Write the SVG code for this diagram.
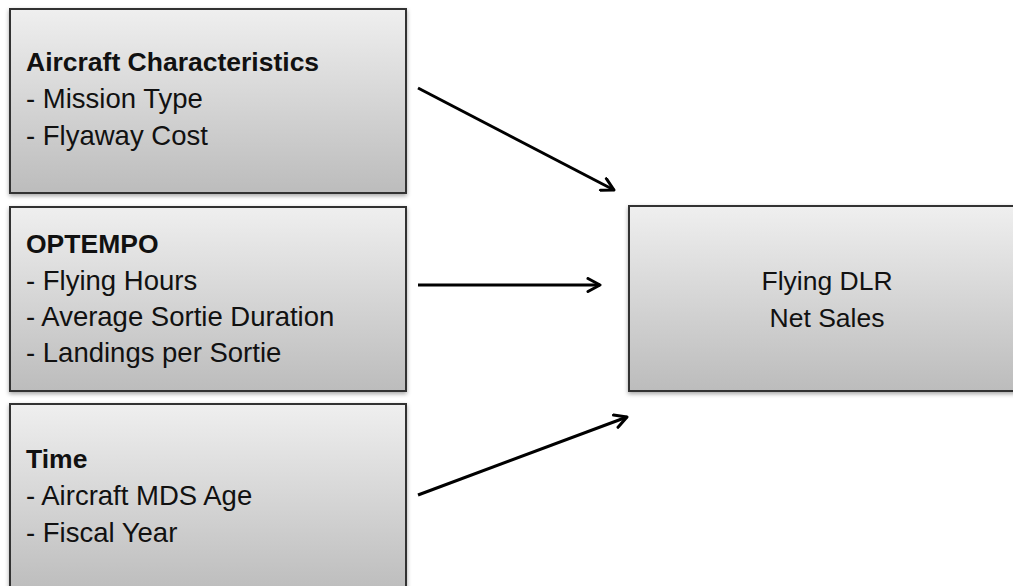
<svg xmlns="http://www.w3.org/2000/svg" width="1013" height="586" viewBox="0 0 1013 586">
<defs>
<linearGradient id="g" x1="0" y1="0" x2="0" y2="1">
<stop offset="0" stop-color="#efefef"/>
<stop offset="1" stop-color="#bcbcbc"/>
</linearGradient>
<filter id="sh" x="-5%" y="-5%" width="110%" height="115%">
<feDropShadow dx="0" dy="2" stdDeviation="2" flood-color="#000" flood-opacity="0.35"/>
</filter>
<marker id="ah" viewBox="0 0 16 16" refX="14" refY="8" markerWidth="16" markerHeight="16" markerUnits="userSpaceOnUse" orient="auto">
<path d="M2,1.5 L14,8 L2,14.5" fill="none" stroke="#000" stroke-width="3" stroke-linecap="round" stroke-linejoin="round"/>
</marker>
<style>
.box{fill:url(#g);stroke:#333;stroke-width:2;filter:url(#sh)}
text{font-family:"Liberation Sans",Arial,sans-serif;font-size:27.5px;fill:#111}
.b{font-weight:bold;font-size:26.5px}
.c{text-anchor:middle;font-size:26.5px}
.ln{stroke:#000;stroke-width:3;fill:none;marker-end:url(#ah)}
</style>
</defs>
<g id="n-aircraft">
<rect class="box" x="10" y="9" width="396" height="184"/>
<text class="b" x="26" y="71">Aircraft Characteristics</text>
<text x="26" y="108">- Mission Type</text>
<text x="26" y="145">- Flyaway Cost</text>
</g>
<g id="n-optempo">
<rect class="box" x="10" y="207" width="396" height="184"/>
<text class="b" x="26" y="253">OPTEMPO</text>
<text x="26" y="290">- Flying Hours</text>
<text x="26" y="326">- Average Sortie Duration</text>
<text x="26" y="362">- Landings per Sortie</text>
</g>
<g id="n-time">
<rect class="box" x="10" y="404" width="396" height="190"/>
<text class="b" x="26" y="468">Time</text>
<text x="26" y="505">- Aircraft MDS Age</text>
<text x="26" y="542">- Fiscal Year</text>
</g>
<g id="n-dlr">
<rect class="box" x="629" y="206" width="396" height="185"/>
<text class="c" x="827" y="290">Flying DLR</text>
<text class="c" x="827" y="327">Net Sales</text>
</g>
<g id="connectors">
<line class="ln" x1="418" y1="88" x2="614" y2="190"/>
<line class="ln" x1="418" y1="285" x2="600" y2="285"/>
<line class="ln" x1="418" y1="495" x2="627" y2="417"/>
</g>
</svg>
